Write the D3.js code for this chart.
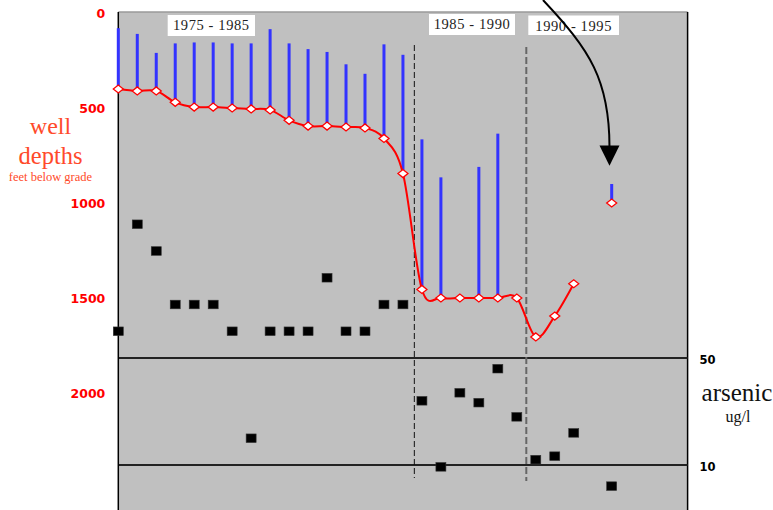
<!DOCTYPE html>
<html>
<head>
<meta charset="utf-8">
<script src="https://cdn.jsdelivr.net/npm/d3@7"></script>
<style>
  html, body { margin: 0; padding: 0; background: #ffffff; }
  svg { display: block; }
</style>
</head>
<body>
<svg id="chart" width="773" height="510"></svg>
<script>
// ---------------- DATA ----------------
// sample index (position along the horizontal axis)
const wellIndex = [0,1,2,3,4,5,6,7,8,9,10,11,12,13,14,15,16,17,18,19,20,21,22,23,24,26];
// well depth (feet below grade)
const wellDepth = [400,410,410,470,495,495,500,505,510,565,595,595,600,605,660,845,
                   1455,1500,1500,1500,1500,1500,1705,1595,1425,1000];
// top of the blue bar (feet below grade); null = no bar
const barTop = [80,110,210,160,155,155,160,160,85,160,190,205,270,320,165,220,
                665,865,null,810,635,null,null,null,null,900];
// arsenic (ug/l)
const arsenic = [60,100,90,70,70,70,60,20,60,60,60,80,60,60,70,70,
                 34,9.3,37,33.3,46,28,12,13.3,22,2.1];
// which points are joined by the smoothed line
const lineCount = 25;
const depthTicks = [0,500,1000,1500,2000];
const arsenicTicks = [10,50];
const periodLabels = ["1975 - 1985","1985 - 1990","1990 - 1995"];
const periodDividers = [15.6, 21.5];

// ---------------- LAYOUT ----------------
const W = 773, H = 510;
const plot = {left: 118.3, right: 687.6, top: 12, bottom: 510};
const svg = d3.select("#chart");

const x = d3.scaleLinear().domain([0, 30]).range([plot.left, plot.right]);
const yDepth = d3.scaleLinear().domain([0, 2000]).range([13, 393]);
const yAs = d3.scaleLinear().domain([10, 50]).range([465, 358]);

// background
svg.append("rect").attr("x", plot.left).attr("y", plot.top)
  .attr("width", plot.right - plot.left).attr("height", plot.bottom - plot.top)
  .attr("fill", "#c0c0c0");
svg.append("line").attr("x1", plot.left).attr("x2", plot.right)
  .attr("y1", plot.top).attr("y2", plot.top)
  .attr("stroke", "#9a9a9a").attr("stroke-width", 1.5);
svg.append("line").attr("x1", plot.right).attr("x2", plot.right)
  .attr("y1", plot.top).attr("y2", plot.bottom)
  .attr("stroke", "#000").attr("stroke-width", 1.5);

// arsenic reference lines
svg.selectAll("line.asref").data(arsenicTicks).enter().append("line")
  .attr("class", "asref")
  .attr("x1", plot.left).attr("x2", plot.right)
  .attr("y1", d => yAs(d)).attr("y2", d => yAs(d))
  .attr("stroke", "#222").attr("stroke-width", 2);

// period dividers
const dividerStyle = [
  {stroke: "#111", width: 1, dash: "6,3", y1: 45, y2: 478},
  {stroke: "#666", width: 2, dash: "7,3", y1: 47, y2: 481}
];
periodDividers.forEach((v, i) => {
  const s = dividerStyle[i];
  svg.append("line").attr("x1", x(v)).attr("x2", x(v))
    .attr("y1", s.y1).attr("y2", s.y2)
    .attr("stroke", s.stroke).attr("stroke-width", s.width)
    .attr("stroke-dasharray", s.dash);
});

// left axis line
svg.append("line").attr("x1", plot.left).attr("x2", plot.left)
  .attr("y1", plot.top).attr("y2", plot.bottom)
  .attr("stroke", "#000").attr("stroke-width", 1.5);

// blue bars
const bars = wellIndex.map((v, i) => ({i: v, top: barTop[i], bottom: wellDepth[i]}))
  .filter(d => d.top !== null);
svg.selectAll("rect.bar").data(bars).enter().append("rect")
  .attr("class", "bar")
  .attr("x", d => x(d.i) - 1.5).attr("width", 3)
  .attr("y", d => yDepth(d.top))
  .attr("height", d => yDepth(d.bottom) - yDepth(d.top))
  .attr("fill", "#3333ff");

// red smoothed line
const pts = wellIndex.map((v, i) => [x(v), yDepth(wellDepth[i])]);
svg.append("path")
  .attr("d", d3.line().curve(d3.curveCardinal.tension(0))(pts.slice(0, lineCount)))
  .attr("fill", "none").attr("stroke", "#ff0000").attr("stroke-width", 2);

// diamond markers
svg.selectAll("path.mk").data(pts).enter().append("path")
  .attr("class", "mk")
  .attr("d", d => `M${d[0]-5},${d[1]}L${d[0]},${d[1]-4}L${d[0]+5},${d[1]}L${d[0]},${d[1]+4}Z`)
  .attr("fill", "#fff").attr("stroke", "#ff0000").attr("stroke-width", 1.3);

// arsenic squares
svg.selectAll("rect.as").data(wellIndex.map((v, i) => ({i: v, a: arsenic[i]})))
  .enter().append("rect").attr("class", "as")
  .attr("x", d => x(d.i) - 5).attr("y", d => yAs(d.a) - 4.3)
  .attr("width", 10).attr("height", 8.6)
  .attr("fill", "#000").attr("stroke", "#333").attr("stroke-width", 0.6);

// left axis labels
const axL = d3.axisLeft(yDepth).tickValues(depthTicks).tickFormat(d3.format("d"))
  .tickSize(0).tickPadding(13);
const gL = svg.append("g").attr("transform", `translate(${plot.left},0)`).call(axL);
gL.select(".domain").remove();
gL.selectAll("text").attr("fill", "#ff0000")
  .style("font-family", "'DejaVu Sans', sans-serif").style("font-weight", "bold")
  .style("font-size", "12.5px");

// right axis labels
const axR = d3.axisRight(yAs).tickValues(arsenicTicks).tickFormat(d3.format("d"))
  .tickSize(0).tickPadding(12);
const gR = svg.append("g").attr("transform", `translate(${plot.right},2)`).call(axR);
gR.select(".domain").remove();
gR.selectAll("text").attr("fill", "#000")
  .style("font-family", "'DejaVu Sans', sans-serif").style("font-weight", "bold")
  .style("font-size", "11.5px");

// left title
const serif = "'Liberation Serif', 'Times New Roman', serif";
const red2 = "#ff4a2a";
[["well", 133.5, 24], ["depths", 163.5, 24.5], ["feet below grade", 181, 12.5]].forEach(t => {
  svg.append("text").attr("x", 50.5).attr("y", t[1]).attr("text-anchor", "middle")
    .attr("fill", red2).style("font-family", serif).style("font-size", t[2] + "px").text(t[0]);
});
// right title
svg.append("text").attr("x", 737).attr("y", 400.5).attr("text-anchor", "middle")
  .attr("fill", "#111").style("font-family", serif).style("font-size", "25px").text("arsenic");
svg.append("text").attr("x", 738).attr("y", 421.5).attr("text-anchor", "middle")
  .attr("fill", "#111").style("font-family", serif).style("font-size", "16px").text("ug/l");

// period label boxes
const boxes = [
  {x0: 167.7, x1: 255, y0: 15, y1: 36, base: 29.8},
  {x0: 429, x1: 515, y0: 14, y1: 35, base: 29.3},
  {x0: 528.3, x1: 619, y0: 15.5, y1: 35, base: 31}
];
periodLabels.forEach((lab, i) => {
  const b = boxes[i];
  svg.append("rect").attr("x", b.x0).attr("y", b.y0)
    .attr("width", b.x1 - b.x0).attr("height", b.y1 - b.y0).attr("fill", "#fff");
  svg.append("text").attr("x", (b.x0 + b.x1) / 2).attr("y", b.base)
    .attr("text-anchor", "middle").attr("fill", "#222")
    .style("font-family", serif).style("font-size", "14.5px").style("letter-spacing", "0.6px")
    .text(lab);
});

// arrow pointing at the last well
const ax = x(26) - 2.2;
svg.append("path")
  .attr("d", `M${ax-66.5},0 C${ax-19.5},50 ${ax},80 ${ax},147`)
  .attr("fill", "none").attr("stroke", "#000").attr("stroke-width", 2);
svg.append("path")
  .attr("d", `M${ax-10},145.5 L${ax+10},145.5 L${ax},165.7 Z`)
  .attr("fill", "#000");
</script>
</body>
</html>
